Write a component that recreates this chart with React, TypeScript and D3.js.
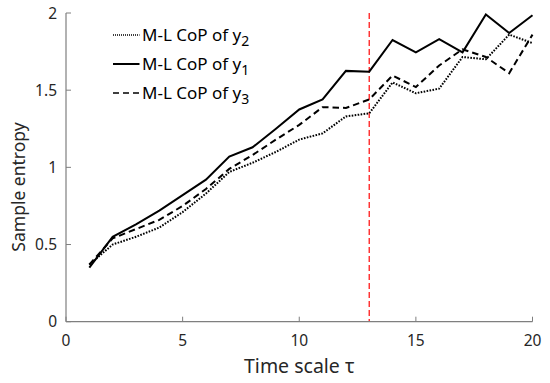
import React from "react";
import * as d3 from "d3";

// time scale tau
const scales = d3.range(1, 21);
// sample entropy per series
const y1Values = [0.35, 0.55, 0.63, 0.72, 0.82, 0.92, 1.07, 1.13, 1.25, 1.375, 1.44, 1.625, 1.62, 1.825, 1.745, 1.83, 1.745, 1.99, 1.87, 1.985];
const y2Values = [0.37, 0.5, 0.55, 0.61, 0.71, 0.83, 0.97, 1.03, 1.1, 1.18, 1.22, 1.33, 1.35, 1.55, 1.48, 1.51, 1.715, 1.7, 1.86, 1.805];
const y3Values = [0.37, 0.54, 0.6, 0.66, 0.75, 0.86, 0.99, 1.08, 1.18, 1.275, 1.39, 1.385, 1.44, 1.595, 1.52, 1.66, 1.765, 1.715, 1.61, 1.86];
const xTicks = [0, 5, 10, 15, 20];
const yTicks = [0, 0.5, 1, 1.5, 2];
const markerScale = 13;

const seriesList = [
  { sub: "2", values: y2Values, dash: "1.6,1.4" },
  { sub: "1", values: y1Values, dash: null },
  { sub: "3", values: y3Values, dash: "6.5,4" },
];

const App = () => {
  const width = 550;
  const height = 383;
  const margin = { top: 13, right: 17.5, bottom: 61.3, left: 66 };
  const font = "'Noto Sans', 'Open Sans', sans-serif";
  const axisColor = "#7f7f7f";

  const x = d3.scaleLinear().domain([0, 20]).range([margin.left, width - margin.right]);
  const y = d3.scaleLinear().domain([0, 2]).range([height - margin.bottom, margin.top]);

  const line = d3
    .line<number>()
    .x((d, i) => x(scales[i]))
    .y((d) => y(d));

  const bottom = y(0);
  const left = x(0);

  return (
    <svg width={width} height={height} style={{ position: "absolute", left: 0, top: 0 }}>
      <rect width={width} height={height} fill="#fff" />

      {/* red marker at tau = 13 */}
      <line
        x1={x(markerScale)}
        x2={x(markerScale)}
        y1={y(2)}
        y2={bottom}
        stroke="#ff1a1a"
        strokeWidth={1.3}
        strokeDasharray="6,3"
      />

      {seriesList.map((s) => (
        <path
          key={s.sub}
          d={line(s.values) || ""}
          fill="none"
          stroke="#000"
          strokeWidth={2}
          strokeDasharray={s.dash || undefined}
          strokeLinejoin="miter"
        />
      ))}

      {/* axes */}
      <line x1={left} x2={x(20)} y1={bottom} y2={bottom} stroke={axisColor} strokeWidth={1.2} />
      <line x1={left} x2={left} y1={y(2)} y2={bottom} stroke={axisColor} strokeWidth={1.2} />
      {xTicks.map((t) => (
        <g key={"x" + t}>
          <line x1={x(t)} x2={x(t)} y1={bottom} y2={bottom - 5} stroke={axisColor} strokeWidth={1} />
          <text x={x(t)} y={bottom + 24} textAnchor="middle" fontFamily={font} fontSize={15.5} fill="#262626">
            {t}
          </text>
        </g>
      ))}
      {yTicks.map((t) => (
        <g key={"y" + t}>
          <line x1={left} x2={left + 5} y1={y(t)} y2={y(t)} stroke={axisColor} strokeWidth={1} />
          <text x={left - 9} y={y(t) + 5.5} textAnchor="end" fontFamily={font} fontSize={15.5} fill="#262626">
            {t}
          </text>
        </g>
      ))}

      <text
        x={(left + x(20)) / 2}
        y={bottom + 51.5}
        textAnchor="middle"
        fontFamily={font}
        fontSize={19.5}
        fill="#262626"
      >
        Time scale τ
      </text>
      <text
        transform={`translate(25,187) rotate(-90)`}
        textAnchor="middle"
        fontFamily={font}
        fontSize={17.5}
        fill="#262626"
      >
        Sample entropy
      </text>

      {/* legend */}
      {seriesList.map((s, i) => {
        const ly = 35 + i * 29;
        return (
          <g key={"lg" + s.sub}>
            <line
              x1={113}
              x2={139.5}
              y1={ly}
              y2={ly}
              stroke="#000"
              strokeWidth={s.dash ? 1.5 : 2}
              strokeDasharray={s.dash === "6.5,4" ? "6,4" : s.dash ? "1,1" : undefined}
            />
            <text x={142} y={ly + 5.5} fontFamily={font} fontSize={17} fill="#000">
              M-L CoP of y
              <tspan dy={5} fontSize={14}>
                {s.sub}
              </tspan>
            </text>
          </g>
        );
      })}
    </svg>
  );
};

export default App;
